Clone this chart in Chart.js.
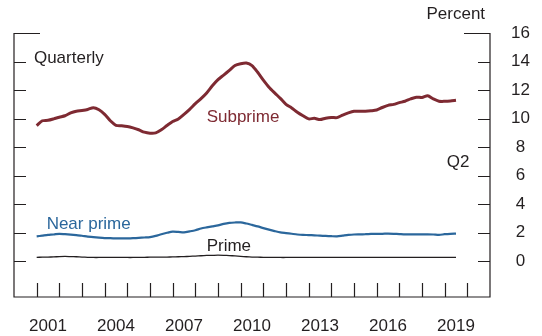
<!DOCTYPE html>
<html lang="en">
<head>
<meta charset="UTF-8">
<title>Delinquency rates by borrower type</title>
<script src="https://cdn.jsdelivr.net/npm/chart.js@4"></script>
<style>
  html, body { margin: 0; padding: 0; background: #fff; }
  canvas { display: block; }
</style>
</head>
<body>
<canvas id="chart" width="542" height="336"></canvas>
<script>
// quarterly series, 2001 Q1 .. 2019 Q2 (percent)
const firstYear = 2001;
const subprime = [
  9.51, 9.85, 9.88, 9.98, 10.1, 10.2, 10.4, 10.52, 10.57, 10.64, 10.77, 10.62,
  10.3, 9.85, 9.53, 9.5, 9.45, 9.35, 9.22, 9.05, 8.98, 9.0, 9.22, 9.52,
  9.8, 9.98, 10.3, 10.65, 11.05, 11.4, 11.8, 12.3, 12.73, 13.05, 13.38, 13.72,
  13.85, 13.9, 13.72, 13.25, 12.7, 12.2, 11.8, 11.42, 11.0, 10.75, 10.45, 10.2,
  9.98, 10.02, 9.93, 10.03, 10.08, 10.07, 10.25, 10.4, 10.51, 10.51, 10.52, 10.55,
  10.6, 10.78, 10.93, 11.0, 11.12, 11.22, 11.38, 11.5, 11.48, 11.6, 11.38, 11.22,
  11.21, 11.23, 11.28
];
const nearPrime = [
  1.75, 1.8, 1.85, 1.88, 1.93, 1.9, 1.87, 1.83, 1.79, 1.73, 1.7, 1.66,
  1.63, 1.62, 1.61, 1.61, 1.61, 1.62, 1.64, 1.67, 1.7, 1.78, 1.9, 2.0,
  2.08, 2.06, 2.03, 2.1, 2.18, 2.3, 2.38, 2.45, 2.52, 2.62, 2.69, 2.72,
  2.73, 2.65, 2.55, 2.45, 2.33, 2.22, 2.12, 2.03, 1.98, 1.93, 1.88, 1.85,
  1.84, 1.82, 1.8, 1.78, 1.76, 1.75, 1.8, 1.85, 1.88, 1.89, 1.9, 1.92,
  1.93, 1.93, 1.94, 1.93, 1.91, 1.89, 1.89, 1.89, 1.89, 1.89, 1.88, 1.85,
  1.9, 1.93, 1.94
];
const prime = [
  0.28, 0.29, 0.3, 0.31, 0.33, 0.34, 0.33, 0.32, 0.3, 0.28, 0.27, 0.27,
  0.27, 0.27, 0.27, 0.27, 0.27, 0.27, 0.28, 0.28, 0.29, 0.29, 0.3, 0.3,
  0.31, 0.32, 0.33, 0.35, 0.37, 0.39, 0.41, 0.42, 0.43, 0.42, 0.4, 0.38,
  0.35, 0.32, 0.3, 0.29, 0.28, 0.28, 0.28, 0.27, 0.27, 0.27, 0.27, 0.27,
  0.27, 0.27, 0.27, 0.27, 0.27, 0.27, 0.27, 0.27, 0.27, 0.27, 0.27, 0.27,
  0.27, 0.27, 0.27, 0.27, 0.27, 0.27, 0.27, 0.27, 0.27, 0.27, 0.27, 0.27,
  0.27, 0.27, 0.27
];
const yearTicks = [2001, 2002, 2003, 2004, 2005, 2006, 2007, 2008, 2009, 2010,
  2011, 2012, 2013, 2014, 2015, 2016, 2017, 2018, 2019, 2020];
const xLabels = ['2001', '2004', '2007', '2010', '2013', '2016', '2019'];
const yTicks = [0, 2, 4, 6, 8, 10, 12, 14, 16];

const FONT = { family: '"Liberation Sans", Arial, sans-serif', size: 17 };
const INK = '#231f20';
const RED = '#7e2a32';
const BLUE = '#2b679c';

function toPoints(values) {
  return values.map((v, i) => ({ x: firstYear + i * 0.25, y: v }));
}

// text labels placed in data coordinates
const notes = [
  { text: 'Quarterly', x: 2000.88, y: 14.2, color: INK },
  { text: 'Subprime', x: 2008.5, y: 10.1, color: RED },
  { text: 'Q2', x: 2019.09, y: 6.95, color: INK },
  { text: 'Near prime', x: 2001.44, y: 2.57, color: BLUE },
  { text: 'Prime', x: 2008.5, y: 1.05, color: INK },
  { text: 'Percent', x: 2019.49, y: 17.3, color: INK, align: 'center' }
];

const frame = {
  id: 'frame',
  afterDraw(chart) {
    const { ctx, chartArea: a, scales: { x, y } } = chart;
    ctx.save();
    ctx.strokeStyle = INK;
    ctx.lineWidth = 1.2;
    ctx.beginPath();
    ctx.moveTo(a.left, a.top); ctx.lineTo(a.left, a.bottom);
    ctx.lineTo(a.right, a.bottom); ctx.lineTo(a.right, a.top);
    // inward ticks on both value axes
    yTicks.forEach(v => {
      const py = Math.round(y.getPixelForValue(v)) + 0.5;
      const len = v === 16 ? 26 : 12;
      ctx.moveTo(a.left, py); ctx.lineTo(a.left + len, py);
      ctx.moveTo(a.right, py); ctx.lineTo(a.right - len, py);
    });
    // year ticks pointing up from the bottom
    yearTicks.forEach(t => {
      const px = Math.round(x.getPixelForValue(t)) + 0.5;
      ctx.moveTo(px, a.bottom); ctx.lineTo(px, a.bottom - 14);
    });
    ctx.stroke();

    ctx.font = FONT.size + 'px ' + FONT.family;
    ctx.textBaseline = 'middle';
    notes.forEach(n => {
      ctx.fillStyle = n.color;
      ctx.textAlign = n.align || 'left';
      ctx.fillText(n.text, x.getPixelForValue(n.x), y.getPixelForValue(n.y));
    });
    ctx.restore();
  }
};

new Chart(document.getElementById('chart'), {
  type: 'line',
  data: {
    datasets: [
      { label: 'Subprime', data: toPoints(subprime), borderColor: RED, borderWidth: 3 },
      { label: 'Near prime', data: toPoints(nearPrime), borderColor: BLUE, borderWidth: 2.2 },
      { label: 'Prime', data: toPoints(prime), borderColor: INK, borderWidth: 1.3 }
    ]
  },
  options: {
    responsive: false,
    animation: false,
    layout: { padding: { left: 14, top: 33, right: 0, bottom: 0 } },
    elements: { point: { radius: 0 }, line: { tension: 0.25 } },
    plugins: { legend: { display: false }, tooltip: { enabled: false } },
    scales: {
      x: {
        type: 'linear', min: 2000, max: 2021,
        afterBuildTicks: s => { s.ticks = xLabels.map(l => ({ value: +l + 0.5 })); },
        afterFit: s => { s.height = 39; },
        ticks: {
          font: FONT, color: INK, padding: 19, autoSkip: false, maxRotation: 0,
          callback: (v, i) => xLabels[i]
        },
        grid: { display: false, drawTicks: false },
        border: { display: false }
      },
      y: {
        position: 'right', min: -2.5, max: 16,
        afterBuildTicks: s => { s.ticks = yTicks.map(v => ({ value: v })); },
        afterFit: s => { s.width = 52; },
        ticks: { font: FONT, color: INK, padding: 21, crossAlign: 'center' },
        grid: { display: false, drawTicks: false },
        border: { display: false }
      }
    }
  },
  plugins: [frame]
});
</script>
</body>
</html>
